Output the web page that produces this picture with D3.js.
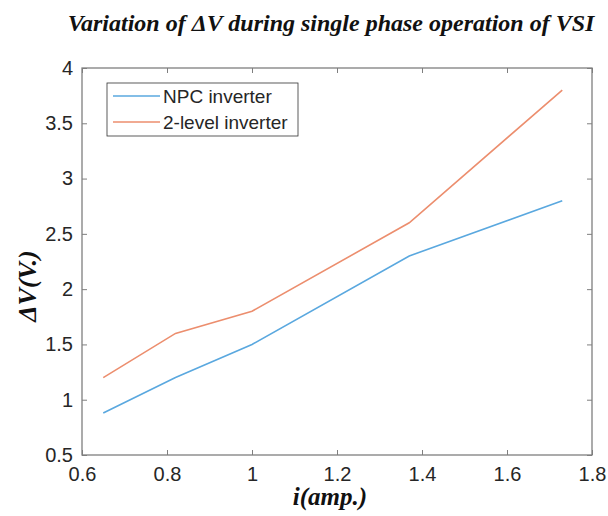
<!DOCTYPE html>
<html>
<head>
<meta charset="utf-8">
<script src="https://cdn.jsdelivr.net/npm/d3@7"></script>
<style>
  body { margin: 0; background: #fff; }
  svg { display: block; }
</style>
</head>
<body>
<div id="chart"></div>
<script>
// Data
const current = [0.65, 0.82, 1.0, 1.37, 1.73];
const npcDeltaV = [0.88, 1.2, 1.5, 2.3, 2.8];
const twoLevelDeltaV = [1.2, 1.6, 1.8, 2.6, 3.8];
const xTicks = [0.6, 0.8, 1, 1.2, 1.4, 1.6, 1.8];
const yTicks = [0.5, 1, 1.5, 2, 2.5, 3, 3.5, 4];
const seriesNames = ["NPC inverter", "2-level inverter"];

const width = 608;
const height = 516;
const margin = { top: 68, right: 16, bottom: 61, left: 82 };
const innerW = width - margin.left - margin.right;
const innerH = height - margin.top - margin.bottom;

const colors = ["#5aa8df", "#ec8e6e"];
const axisColor = "#7f7f7f";

const svg = d3
  .select("#chart")
  .append("svg")
  .attr("width", width)
  .attr("height", height);

const g = svg
  .append("g")
  .attr("transform", `translate(${margin.left},${margin.top})`);

const x = d3.scaleLinear().domain([0.6, 1.8]).range([0, innerW]);
const y = d3.scaleLinear().domain([0.5, 4]).range([innerH, 0]);

// Axes (ticks pointing inward, box around)
const styleAxis = (sel) => {
  sel.select(".domain").remove();
  sel.selectAll(".tick line").attr("stroke", axisColor);
  sel
    .selectAll(".tick text")
    .attr("fill", "#262626")
    .style("font-family", "Liberation Sans, Arial, sans-serif")
    .style("font-size", "20px");
};

g.append("g")
  .attr("transform", `translate(0,${innerH})`)
  .call(d3.axisBottom(x).tickValues(xTicks).tickSize(-5).tickPadding(12).tickFormat(d3.format("")))
  .call(styleAxis);

g.append("g")
  .call(d3.axisTop(x).tickValues(xTicks).tickSize(-5).tickFormat(""))
  .call(styleAxis);

g.append("g")
  .call(d3.axisLeft(y).tickValues(yTicks).tickSize(-5).tickPadding(9).tickFormat(d3.format("")))
  .call(styleAxis);

g.append("g")
  .attr("transform", `translate(${innerW},0)`)
  .call(d3.axisRight(y).tickValues(yTicks).tickSize(-5).tickFormat(""))
  .call(styleAxis);

g.append("rect")
  .attr("width", innerW)
  .attr("height", innerH)
  .attr("fill", "none")
  .attr("stroke", axisColor)
  .attr("stroke-width", 1.3);

// Lines
const line = d3
  .line()
  .x((d) => x(d[0]))
  .y((d) => y(d[1]));

[npcDeltaV, twoLevelDeltaV].forEach((vals, i) => {
  g.append("path")
    .datum(current.map((c, j) => [c, vals[j]]))
    .attr("fill", "none")
    .attr("stroke", colors[i])
    .attr("stroke-width", 1.6)
    .attr("d", line);
});

// Legend
const legend = g.append("g").attr("transform", "translate(25,15)");
legend
  .append("rect")
  .attr("width", 191)
  .attr("height", 53)
  .attr("fill", "#fff")
  .attr("stroke", "#333")
  .attr("stroke-width", 0.8);

seriesNames.forEach((name, i) => {
  const row = legend.append("g").attr("transform", `translate(0,${13 + i * 26})`);
  row
    .append("line")
    .attr("x1", 6)
    .attr("x2", 53)
    .attr("stroke", colors[i])
    .attr("stroke-width", 1.6);
  row
    .append("text")
    .attr("x", 56)
    .attr("dy", "0.35em")
    .attr("fill", "#262626")
    .style("font-family", "Liberation Sans, Arial, sans-serif")
    .style("font-size", "19px")
    .text(name);
});

// Title and axis labels
const serif = "Liberation Serif, Times New Roman, serif";

svg
  .append("text")
  .attr("x", 331)
  .attr("y", 31)
  .attr("text-anchor", "middle")
  .style("font-family", serif)
  .style("font-weight", "bold")
  .style("font-style", "italic")
  .style("font-size", "24px")
  .attr("fill", "#111")
  .text("Variation of \u0394V during single phase operation of VSI");

svg
  .append("text")
  .attr("x", 330)
  .attr("y", 505)
  .attr("text-anchor", "middle")
  .style("font-family", serif)
  .style("font-weight", "bold")
  .style("font-style", "italic")
  .style("font-size", "25px")
  .attr("fill", "#111")
  .text("i(amp.)");

svg
  .append("text")
  .attr("transform", "translate(36,286) rotate(-90)")
  .attr("text-anchor", "middle")
  .style("font-family", serif)
  .style("font-weight", "bold")
  .style("font-style", "italic")
  .style("font-size", "26px")
  .attr("fill", "#111")
  .text("\u0394V(V.)");
</script>
</body>
</html>
